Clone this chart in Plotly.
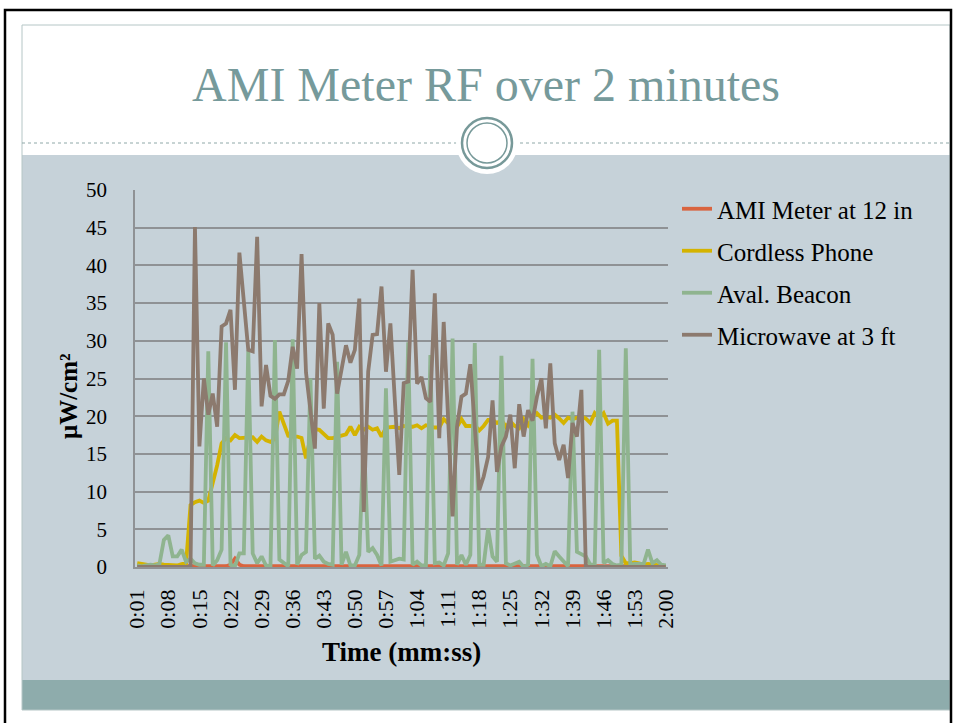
import plotly.graph_objects as go

W, H = 954, 723

# ---------------- data ----------------
times = [f"{s // 60}:{s % 60:02d}" for s in range(1, 121)]

ami_meter = [0.1] * 21 + [0.3, 1.1, 0.3] + [0.1] * 96

cordless_phone = [
    0.5, 0.4, 0.2, 0.2, 0.3, 0.4, 0.3, 0.3, 0.3, 0.2,
    0.4, 0.5, 8.2, 8.6, 8.8, 8.5, 8.8, 11.0, 13.5, 16.4,
    17.1, 16.8, 17.5, 17.1, 17.1, 17.1, 17.2, 16.6, 17.3, 16.8,
    16.6, 17.0, 20.6, 19.0, 17.4, 17.3, 17.3, 17.1, 14.4, 17.2,
    18.3, 18.2, 17.6, 17.1, 17.1, 17.3, 17.4, 17.6, 18.6, 17.5,
    18.6, 18.2, 18.6, 18.2, 18.4, 17.3, 18.5, 18.6, 18.6, 18.4,
    18.7, 18.6, 18.6, 18.8, 18.4, 18.8, 18.6, 18.5, 18.5, 19.6,
    19.1, 18.8, 18.6, 19.6, 18.7, 18.7, 18.8, 18.1, 18.7, 19.5,
    19.5, 19.1, 19.5, 18.6, 19.3, 18.7, 18.4, 19.6, 18.8, 19.8,
    20.4, 19.8, 19.9, 19.8, 20.2, 19.7, 19.1, 19.8, 19.6, 19.8,
    20.0, 19.7, 19.1, 20.4, 19.8, 20.4, 19.0, 19.4, 19.4, 1.5,
    0.5, 0.5, 0.6, 0.5, 0.3, 0.4, 0.3, 0.2, 0.2, 0.1,
]

aval_beacon = [
    0.2, 0.1, 0.2, 0.3, 0.2, 0.4, 3.6, 4.2, 1.4, 1.4,
    2.3, 0.7, 1.1, 0.5, 0.3, 0.3, 28.6, 0.2, 0.9, 2.3,
    29.8, 0.3, 0.1, 1.8, 1.8, 28.7, 1.8, 0.5, 1.4, 0.2,
    0.1, 30.1, 1.0, 0.5, 0.1, 30.2, 0.3, 1.6, 2.0, 25.0,
    1.1, 1.5, 0.7, 0.4, 0.3, 27.2, 0.3, 2.0, 0.2, 0.2,
    1.6, 17.5, 2.0, 2.5, 1.6, 0.2, 23.7, 0.7, 0.9, 1.1,
    1.0, 29.8, 0.3, 0.7, 0.2, 0.2, 28.1, 0.5, 0.6, 0.2,
    1.8, 30.3, 0.3, 1.6, 0.3, 1.6, 29.7, 0.3, 0.3, 5.1,
    1.4, 0.7, 28.0, 0.5, 0.2, 0.4, 0.7, 0.0, 0.3, 27.6,
    1.6, 0.1, 0.4, 0.1, 2.1, 1.4, 0.7, 0.1, 20.6, 2.0,
    1.7, 1.4, 0.3, 0.3, 28.8, 0.5, 0.9, 0.4, 0.2, 0.3,
    29.0, 0.3, 0.4, 0.4, 0.4, 2.3, 0.5, 0.9, 0.3, 0.2,
]

microwave = [
    0, 0, 0, 0, 0, 0, 0, 0, 0, 0,
    0, 0, 0, 45.1, 16.0, 25.0, 20.2, 23.0, 18.6, 31.9,
    32.3, 34.1, 23.5, 41.7, 35.3, 28.8, 28.6, 43.8, 21.3, 26.8,
    22.7, 22.3, 22.9, 22.9, 24.7, 29.2, 26.3, 41.5, 25.8, 20.8,
    15.7, 35.0, 21.0, 32.3, 30.8, 23.0, 26.3, 29.4, 27.1, 28.8,
    35.6, 7.3, 25.9, 30.8, 30.9, 37.2, 25.9, 32.3, 22.1, 12.2,
    24.4, 24.6, 39.4, 24.3, 25.2, 22.4, 21.9, 36.3, 17.1, 32.5,
    19.6, 6.7, 18.6, 22.6, 23.0, 26.9, 18.6, 10.2, 12.0, 14.6,
    22.1, 12.6, 16.0, 17.3, 20.2, 13.1, 21.6, 17.3, 20.8, 19.4,
    22.6, 25.0, 18.4, 27.0, 16.4, 14.2, 16.2, 11.8, 19.1, 17.3,
    23.5, 0, 0, 0, 0, 0, 0, 0, 0, 0,
    0, 0, 0, 0, 0, 0, 0, 0, 0, 0,
]

series_names = ["AMI Meter at 12 in", "Cordless Phone", "Aval. Beacon", "Microwave at 3 ft"]
series_values = [ami_meter, cordless_phone, aval_beacon, microwave]
series_colors = ["#D9643F", "#D4B300", "#8FB48F", "#8C7A6E"]

tick_labels = times[::7]
y_ticks = list(range(0, 51, 5))

# ---------------- styling ----------------
SERIF = "Liberation Serif"
SLIDE_BG = "#C6D2D9"
BAND = "#8EACAC"
TEAL = "#779999"
GRID = "#8F9295"


def px(x):
    return x / W


def py(y):
    return 1 - y / H


fig = go.Figure()
for name, vals, col in zip(series_names, series_values, series_colors):
    fig.add_trace(go.Scatter(
        x=times, y=vals, name=name, mode="lines",
        line=dict(color=col, width=3.8),
        legendgroup=name,
    ))

shapes = [
    dict(type="rect", xref="paper", yref="paper", x0=px(22), x1=px(950), y0=py(680), y1=py(155),
         fillcolor=SLIDE_BG, line=dict(width=0), layer="below"),
    dict(type="rect", xref="paper", yref="paper", x0=px(22), x1=px(950), y0=py(710), y1=py(680),
         fillcolor=BAND, line=dict(width=0), layer="below"),
    dict(type="rect", xref="paper", yref="paper", x0=px(22), x1=px(950), y0=py(710), y1=py(25),
         fillcolor="rgba(0,0,0,0)", line=dict(color="#B5C6C6", width=1), layer="below"),
    dict(type="line", xref="paper", yref="paper", x0=px(22), x1=px(950), y0=py(143), y1=py(143),
         line=dict(color="#8FA8A8", width=1, dash="dot"), layer="below"),
    dict(type="circle", xref="paper", yref="paper", x0=px(456), x1=px(518), y0=py(174), y1=py(112),
         fillcolor="white", line=dict(width=0), layer="below"),
    dict(type="circle", xref="paper", yref="paper", x0=px(462), x1=px(512), y0=py(168), y1=py(118),
         fillcolor="rgba(0,0,0,0)", line=dict(color=TEAL, width=2.5), layer="below"),
    dict(type="circle", xref="paper", yref="paper", x0=px(467), x1=px(507), y0=py(163), y1=py(123),
         fillcolor="rgba(0,0,0,0)", line=dict(color=TEAL, width=1.5), layer="below"),
    dict(type="rect", xref="paper", yref="paper", x0=px(5), x1=px(951), y0=py(730), y1=py(10),
         fillcolor="rgba(0,0,0,0)", line=dict(color="black", width=2.5), layer="above"),
]

fig.update_layout(
    template="none",
    width=W, height=H,
    autosize=False,
    margin=dict(l=0, r=0, t=0, b=0, pad=0, autoexpand=False),
    paper_bgcolor="white",
    plot_bgcolor=SLIDE_BG,
    shapes=shapes,
    title=dict(text="AMI Meter RF over 2 minutes", x=px(486), xanchor="center",
               y=py(84), yanchor="middle", yref="container", xref="container",
               font=dict(family=SERIF, size=48, color="#769A9B")),
    font=dict(family=SERIF, color="black"),
    showlegend=True,
    legend=dict(x=px(677), y=py(186), xanchor="left", yanchor="top",
                bgcolor="rgba(0,0,0,0)", borderwidth=0,
                font=dict(family=SERIF, size=25, color="black"),
                tracegroupgap=6.5, itemwidth=30, traceorder="grouped"),
    xaxis=dict(
        domain=[px(135), px(668)],
        type="category",
        range=[-0.5, 119.5],
        automargin=False,
        tickmode="array", tickvals=tick_labels, ticktext=tick_labels,
        tickangle=-90,
        tickfont=dict(family=SERIF, size=22, color="black"),
        ticklabelstandoff=12,
        showgrid=False,
        showline=True, linecolor=GRID, linewidth=1.5,
        ticks="", zeroline=False,
    ),
    yaxis=dict(
        domain=[py(567), py(190)],
        range=[0, 50],
        automargin=False,
        tickmode="array", tickvals=y_ticks,
        tickfont=dict(family=SERIF, size=21, color="black"),
        ticklabelstandoff=22,
        showgrid=True, gridcolor=GRID, gridwidth=1.5,
        showline=True, linecolor=GRID, linewidth=1.5,
        ticks="", zeroline=False,
    ),
    annotations=[
        dict(text="<b>μW/cm²</b>", xref="paper", yref="paper", x=px(68), y=py(396),
             textangle=-90, showarrow=False, font=dict(family=SERIF, size=25, color="black"),
             xanchor="center", yanchor="middle"),
        dict(text="<b>Time (mm:ss)</b>", xref="paper", yref="paper", x=px(401), y=py(652),
             showarrow=False, font=dict(family=SERIF, size=27, color="black"),
             xanchor="center", yanchor="middle"),
    ],
)

fig.write_html(
    "out.html",
    config={"displayModeBar": False},
    post_script="document.body.style.margin='0';document.body.style.overflow='hidden';",
)
